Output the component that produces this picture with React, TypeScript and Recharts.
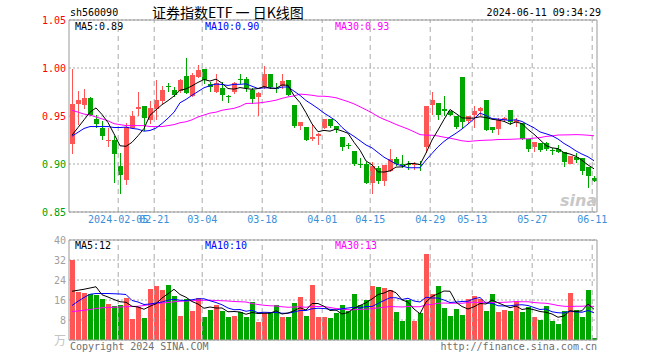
import { ComposedChart, Bar, Line, XAxis, YAxis, CartesianGrid, ReferenceLine } from 'recharts';

const FONT = '"DejaVu Sans Mono", monospace';
const RED = '#ff5555';
const GREEN = '#00a600';
const GRID = '#aaaaaa';
const BORDER = '#999999';

// 2024-01-24 .. 2024-06-11, one entry per trading day
const opens = [
  0.921, 0.963, 0.961, 0.969, 0.947, 0.937, 0.924, 0.925, 0.898, 0.883,
  0.937, 0.957, 0.960, 0.946, 0.957, 0.966, 0.981, 0.977, 0.976, 0.992,
  0.971, 0.991, 0.999, 0.983, 0.975, 0.979, 0.971, 0.975, 0.989, 0.989,
  0.977, 0.970, 0.980, 0.994, 0.979, 0.981, 0.987, 0.961, 0.940, 0.939,
  0.926, 0.929, 0.937, 0.947, 0.940, 0.928, 0.920, 0.914, 0.900, 0.900,
  0.880, 0.896, 0.882, 0.893, 0.905, 0.900, 0.900, 0.899, 0.900, 0.918,
  0.961, 0.964, 0.957, 0.955, 0.950, 0.991, 0.945, 0.951, 0.955, 0.967,
  0.939, 0.936, 0.946, 0.956, 0.944, 0.943, 0.926, 0.918, 0.922, 0.922,
  0.915, 0.916, 0.912, 0.900, 0.907, 0.906, 0.897, 0.885,
];
const highs = [
  0.999, 0.976, 0.978, 0.970, 0.951, 0.945, 0.938, 0.929, 0.911, 0.943,
  0.955, 0.975, 0.960, 0.966, 0.988, 0.981, 0.984, 0.980, 0.989, 1.010,
  0.995, 1.003, 0.999, 0.985, 0.994, 0.985, 0.972, 0.985, 0.994, 0.991,
  0.979, 0.975, 1.002, 0.994, 0.984, 0.994, 0.987, 0.961, 0.944, 0.939,
  0.942, 0.932, 0.947, 0.947, 0.940, 0.928, 0.922, 0.914, 0.906, 0.902,
  0.902, 0.898, 0.899, 0.916, 0.907, 0.909, 0.903, 0.902, 0.903, 0.960,
  0.975, 0.964, 0.971, 0.955, 0.950, 0.991, 0.950, 0.960, 0.959, 0.967,
  0.939, 0.948, 0.949, 0.956, 0.948, 0.943, 0.926, 0.923, 0.922, 0.923,
  0.917, 0.920, 0.912, 0.908, 0.911, 0.906, 0.897, 0.887,
];
const lows = [
  0.910, 0.941, 0.957, 0.950, 0.938, 0.925, 0.918, 0.880, 0.869, 0.878,
  0.936, 0.950, 0.934, 0.942, 0.946, 0.962, 0.975, 0.970, 0.974, 0.973,
  0.970, 0.990, 0.983, 0.975, 0.974, 0.966, 0.964, 0.973, 0.983, 0.975,
  0.963, 0.950, 0.978, 0.978, 0.974, 0.978, 0.971, 0.938, 0.935, 0.924,
  0.924, 0.920, 0.936, 0.937, 0.932, 0.914, 0.916, 0.898, 0.896, 0.879,
  0.869, 0.879, 0.877, 0.892, 0.898, 0.896, 0.894, 0.894, 0.893, 0.911,
  0.951, 0.946, 0.950, 0.950, 0.936, 0.936, 0.942, 0.937, 0.950, 0.934,
  0.932, 0.930, 0.944, 0.941, 0.939, 0.925, 0.913, 0.912, 0.912, 0.914,
  0.909, 0.911, 0.897, 0.900, 0.901, 0.889, 0.875, 0.881,
];
const closes = [
  0.963, 0.967, 0.969, 0.951, 0.942, 0.929, 0.925, 0.910, 0.889, 0.939,
  0.950, 0.959, 0.948, 0.958, 0.967, 0.977, 0.980, 0.972, 0.988, 0.974,
  0.993, 0.998, 0.987, 0.980, 0.984, 0.972, 0.970, 0.984, 0.988, 0.979,
  0.968, 0.974, 0.994, 0.980, 0.978, 0.986, 0.972, 0.940, 0.944, 0.925,
  0.928, 0.931, 0.947, 0.940, 0.936, 0.918, 0.919, 0.900, 0.899, 0.880,
  0.898, 0.882, 0.899, 0.905, 0.900, 0.899, 0.899, 0.900, 0.899, 0.960,
  0.967, 0.951, 0.955, 0.951, 0.939, 0.944, 0.950, 0.955, 0.958, 0.935,
  0.935, 0.946, 0.948, 0.944, 0.946, 0.926, 0.916, 0.923, 0.915, 0.916,
  0.914, 0.912, 0.902, 0.908, 0.904, 0.893, 0.888, 0.882,
];
const ma5 = [
  0.930, 0.938, 0.946, 0.954, 0.9584, 0.9516, 0.9432, 0.9314, 0.919, 0.9184,
  0.9226, 0.9294, 0.937, 0.9508, 0.9564, 0.9618, 0.966, 0.9708, 0.9768, 0.9782,
  0.9814, 0.985, 0.988, 0.9864, 0.9884, 0.9842, 0.9786, 0.978, 0.9796, 0.9786,
  0.9778, 0.9786, 0.9806, 0.979, 0.9788, 0.9824, 0.982, 0.9712, 0.964, 0.9534,
  0.9418, 0.9336, 0.935, 0.9342, 0.9364, 0.9344, 0.932, 0.9226, 0.9144, 0.9032,
  0.8992, 0.8918, 0.8916, 0.8928, 0.8968, 0.897, 0.9004, 0.9006, 0.8994, 0.9114,
  0.925, 0.9354, 0.9464, 0.9568, 0.9526, 0.948, 0.9478, 0.9478, 0.9492, 0.9484,
  0.9466, 0.9458, 0.9444, 0.9416, 0.9438, 0.942, 0.936, 0.931, 0.9252, 0.9192,
  0.9168, 0.916, 0.9118, 0.9104, 0.908, 0.9038, 0.899, 0.895,
];
const ma10 = [
  0.929, 0.933, 0.937, 0.939, 0.939, 0.939, 0.939, 0.938, 0.938, 0.9384,
  0.9371, 0.9363, 0.9342, 0.9349, 0.9374, 0.9422, 0.9477, 0.9539, 0.9638, 0.9673,
  0.9716, 0.9755, 0.9794, 0.9816, 0.9833, 0.9828, 0.9818, 0.983, 0.983, 0.9835,
  0.981, 0.9786, 0.9793, 0.9793, 0.9787, 0.9801, 0.9803, 0.9759, 0.9715, 0.9661,
  0.9621, 0.9578, 0.9531, 0.9491, 0.9449, 0.9381, 0.9328, 0.9288, 0.9243, 0.9198,
  0.9168, 0.9119, 0.9071, 0.9036, 0.900, 0.8981, 0.8961, 0.8961, 0.8961, 0.9041,
  0.911, 0.9179, 0.9235, 0.9281, 0.932, 0.9365, 0.9416, 0.9471, 0.953, 0.9505,
  0.9473, 0.9468, 0.9461, 0.9454, 0.9461, 0.9443, 0.9409, 0.9377, 0.9334, 0.9315,
  0.9294, 0.926, 0.9214, 0.9178, 0.9136, 0.9103, 0.9075, 0.9034,
];
const ma30 = [
  0.956, 0.954, 0.952, 0.951, 0.949, 0.947, 0.945, 0.942, 0.941, 0.940,
  0.940, 0.940, 0.940, 0.939, 0.939, 0.939, 0.940, 0.941, 0.943, 0.944,
  0.946, 0.949, 0.951, 0.953, 0.954, 0.956, 0.957, 0.958, 0.960, 0.9631,
  0.9632, 0.9635, 0.9643, 0.9653, 0.9665, 0.9684, 0.9699, 0.9709, 0.9728, 0.9723,
  0.9716, 0.9706, 0.9706, 0.970, 0.969, 0.967, 0.965, 0.9626, 0.9596, 0.9565,
  0.9533, 0.9494, 0.9465, 0.944, 0.9412, 0.9388, 0.9364, 0.9336, 0.9306, 0.930,
  0.930, 0.9292, 0.9279, 0.9269, 0.9256, 0.9242, 0.9235, 0.924, 0.9245, 0.9248,
  0.925, 0.9255, 0.9256, 0.9257, 0.926, 0.9263, 0.9262, 0.927, 0.9275, 0.9287,
  0.9292, 0.9302, 0.9303, 0.9304, 0.9306, 0.9304, 0.930, 0.9294,
];
// volume, in 万
const volumes = [
  32.1, 19.3, 18.8, 18.3, 17.9, 16.3, 14.6, 13.7, 14.0, 16.7,
  8.5, 13.3, 8.9, 20.3, 21.6, 19.9, 22.0, 17.5, 9.8, 16.3,
  11.4, 16.8, 9.4, 12.2, 14.2, 11.4, 9.4, 9.8, 11.3, 9.4,
  15.2, 7.1, 10.7, 11.1, 14.2, 9.1, 9.1, 14.8, 17.2, 9.8,
  22.0, 9.1, 9.4, 8.7, 10.7, 14.2, 11.8, 18.3, 14.2, 15.9,
  21.6, 21.2, 20.9, 19.9, 11.1, 7.5, 15.9, 7.5, 10.7, 34.6,
  18.3, 21.6, 13.0, 9.8, 12.6, 10.2, 16.3, 17.5, 16.3, 11.5,
  18.3, 11.1, 12.1, 11.5, 15.2, 11.1, 13.2, 9.4, 8.2, 13.7,
  7.5, 6.6, 11.8, 18.8, 12.1, 9.4, 20.0, 1.0,
];
const vma5 = [
  19.5, 19.9, 20.3, 20.8, 21.3, 18.1, 17.2, 16.2, 15.3, 15.1,
  13.5, 13.2, 12.3, 13.5, 14.5, 16.8, 18.5, 20.3, 18.2, 17.1,
  15.4, 14.4, 12.7, 13.2, 12.8, 12.8, 11.3, 11.4, 11.2, 10.3,
  11.0, 10.6, 10.7, 10.7, 11.7, 10.4, 10.8, 11.7, 12.9, 12.0,
  14.6, 14.6, 13.5, 11.8, 12.0, 10.4, 11.0, 12.7, 13.8, 14.9,
  16.4, 18.2, 18.8, 19.9, 18.9, 16.1, 15.1, 12.4, 10.5, 15.2,
  17.4, 18.5, 19.6, 19.5, 15.1, 13.4, 12.4, 13.3, 14.6, 14.4,
  16.0, 14.9, 13.9, 12.9, 13.6, 12.2, 12.6, 12.1, 11.4, 11.1,
  10.4, 9.1, 9.6, 11.7, 11.4, 11.7, 14.4, 12.3,
];
const vma10 = [
  13.8, 15.5, 17.0, 18.3, 18.6, 18.6, 18.6, 18.5, 18.4, 18.2,
  15.8, 15.2, 14.2, 14.4, 14.8, 15.2, 15.9, 16.3, 15.9, 15.8,
  16.1, 16.5, 16.5, 15.7, 15.0, 14.1, 12.8, 12.1, 12.2, 11.5,
  11.9, 10.9, 11.1, 11.0, 11.0, 10.7, 10.7, 11.2, 11.8, 11.8,
  12.5, 12.7, 12.6, 12.3, 12.0, 12.5, 12.8, 13.1, 12.8, 13.4,
  13.4, 14.6, 15.8, 16.9, 16.9, 16.2, 16.7, 15.6, 15.2, 17.1,
  16.8, 16.8, 16.0, 15.0, 15.2, 15.4, 15.5, 16.5, 17.0, 14.7,
  14.7, 13.7, 13.6, 13.7, 14.0, 14.1, 13.8, 13.0, 12.2, 12.4,
  11.3, 10.9, 10.8, 11.6, 11.2, 11.1, 11.8, 10.9,
];
const vma30 = [
  11.4, 11.6, 11.9, 12.2, 12.6, 12.9, 13.0, 13.1, 13.2, 13.3,
  13.4, 13.5, 13.8, 14.2, 14.6, 14.8, 15.0, 15.3, 15.5, 15.6,
  15.7, 15.8, 15.9, 15.9, 15.8, 15.7, 15.6, 15.4, 15.3, 15.2,
  14.6, 14.2, 13.9, 13.7, 13.6, 13.3, 13.1, 13.2, 13.3, 13.1,
  13.5, 13.4, 13.4, 13.0, 12.6, 12.4, 12.1, 12.1, 12.3, 12.3,
  12.6, 12.8, 13.1, 13.4, 13.3, 13.2, 13.4, 13.3, 13.3, 14.1,
  14.2, 14.7, 14.8, 14.7, 14.7, 14.7, 15.0, 15.1, 15.0, 15.1,
  15.0, 15.0, 15.1, 15.2, 15.4, 15.3, 15.3, 15.0, 14.8, 14.7,
  14.3, 13.8, 13.5, 13.4, 13.5, 13.5, 13.7, 13.4,
];

const dateIdx = [8, 14, 22, 32, 42, 50, 60, 67, 77, 87];
const dateLabels = ['2024-02-05', '02-21', '03-04', '03-18', '04-01', '04-15', '04-29', '05-13', '05-27', '06-11'];
const priceTicks = [0.85, 0.9, 0.95, 1.0, 1.05];
const volTicks = [0, 8, 16, 24, 32, 40];

// sina draws the date grid line just left of the candle
const gridX = dateIdx.map((k) => k - 0.3);

const rows = closes.map((close, i) => ({
  i,
  open: opens[i],
  high: highs[i],
  low: lows[i],
  close,
  range: [lows[i], highs[i]],
  vol: volumes[i],
  ma5: ma5[i],
  ma10: ma10[i],
  ma30: ma30[i],
  vma5: vma5[i],
  vma10: vma10[i],
  vma30: vma30[i],
}));

const Candle = (props: any) => {
  const { x, y, width, height, payload } = props;
  if (x == null || !payload) return null;
  const top = Math.min(y, y + height);
  const bot = Math.max(y, y + height);
  const { open, close, high, low } = payload;
  const span = high - low || 1;
  const py = (v: number) => top + ((high - v) / span) * (bot - top);
  const cx = Math.round(x + width / 2);
  const color = close > open ? RED : GREEN;
  const bTop = Math.round(py(Math.max(open, close)));
  const bBot = Math.round(py(Math.min(open, close)));
  return (
    <g>
      <line x1={cx + 0.5} x2={cx + 0.5} y1={Math.round(top)} y2={Math.round(bot)} stroke={color} strokeWidth={1} />
      <rect x={cx - 2} y={bTop} width={5} height={Math.max(1, bBot - bTop)} fill={color} />
    </g>
  );
};

const VolBar = (props: any) => {
  const { x, y, width, height, payload } = props;
  if (x == null || !payload) return null;
  const cx = Math.round(x + width / 2);
  const top = Math.round(Math.min(y, y + height));
  const bot = Math.round(Math.max(y, y + height));
  return <rect x={cx - 2} y={top} width={5} height={Math.max(1, bot - top)} fill={payload.close > payload.open ? RED : GREEN} />;
};

const PriceTick = ({ x, y, payload }: any) => (
  <text x={x} y={y} dy={3.5} textAnchor="end" fontSize={10} fontFamily={FONT} fill={payload.value >= 0.95 ? '#ff0000' : '#00a000'}>
    {payload.value.toFixed(2)}
  </text>
);

const VolTick = ({ x, y, payload }: any) =>
  payload.value === 0 ? (
    <text x={x} y={y} dy={5} textAnchor="end" fontSize={12} fontFamily='"Noto Sans CJK SC", sans-serif' fill="#c4c4c4">
      万
    </text>
  ) : (
    <text x={x} y={y} dy={3.5} textAnchor="end" fontSize={10} fontFamily={FONT} fill="#a0a0a0">
      {payload.value}
    </text>
  );

const Label = ({ left, top, color = '#000', children, right, size = 10, lh, family = FONT }: any) => (
  <div
    style={{
      position: 'absolute',
      left,
      right,
      top,
      color,
      fontSize: size,
      lineHeight: `${lh ?? size + 2}px`,
      fontFamily: family,
      whiteSpace: 'pre',
    }}
  >
    {children}
  </div>
);

const borders = (x0: number, x1: number, y0: number, y1: number) => [
  <ReferenceLine key="bt" y={y1} stroke={BORDER} strokeWidth={1} />,
  <ReferenceLine key="bb" y={y0} stroke={BORDER} strokeWidth={1} />,
  <ReferenceLine key="bl" x={x0} stroke={BORDER} strokeWidth={1} />,
  <ReferenceLine key="br" x={x1} stroke={BORDER} strokeWidth={1} />,
];

export default function App() {
  return (
    <div style={{ position: 'absolute', left: 0, top: 0, width: 660, height: 360, background: '#fff', overflow: 'hidden' }}>
      <div style={{ position: 'absolute', left: 0, top: 0 }}>
        <ComposedChart width={660} height={240} data={rows} margin={{ top: 20, right: 63, bottom: 8, left: 0 }}>
          <CartesianGrid vertical={false} stroke={GRID} strokeDasharray="2 2" />
          {gridX.map((t) => (
            <ReferenceLine key={t} x={t} stroke={GRID} strokeDasharray="5 4" />
          ))}
          <XAxis
            dataKey="i"
            type="number"
            domain={[-0.5, 87.5]}
            allowDataOverflow
            ticks={gridX}
            interval={0}
            tickFormatter={(v: number) => dateLabels[gridX.indexOf(v)] ?? ''}
            tick={{ fill: '#3a8fd8', fontSize: 10, fontFamily: FONT }}
            tickLine={false}
            tickSize={0}
            tickMargin={4}
            axisLine={false}
            height={20}
          />
          <YAxis
            type="number"
            domain={[0.85, 1.05]}
            allowDataOverflow
            ticks={priceTicks}
            interval={0}
            width={69}
            tick={<PriceTick />}
            tickLine={false}
            tickSize={0}
            tickMargin={3}
            axisLine={false}
          />
          <Bar dataKey="range" barSize={5} shape={<Candle />} isAnimationActive={false} />
          <Line type="linear" dataKey="ma30" stroke="#ff00ff" strokeWidth={1} dot={false} activeDot={false} isAnimationActive={false} />
          <Line type="linear" dataKey="ma10" stroke="#0000ff" strokeWidth={1} dot={false} activeDot={false} isAnimationActive={false} />
          <Line type="linear" dataKey="ma5" stroke="#000000" strokeWidth={1} dot={false} activeDot={false} isAnimationActive={false} />
          {borders(-0.5, 87.5, 0.85, 1.05)}
        </ComposedChart>
      </div>

      <div style={{ position: 'absolute', left: 0, top: 230 }}>
        <ComposedChart width={660} height={130} data={rows} margin={{ top: 10, right: 63, bottom: 20, left: 0 }}>
          <CartesianGrid vertical={false} stroke={GRID} strokeDasharray="2 2" />
          {gridX.map((t) => (
            <ReferenceLine key={t} x={t} stroke={GRID} strokeDasharray="5 4" />
          ))}
          <XAxis dataKey="i" type="number" domain={[-0.5, 87.5]} allowDataOverflow hide />
          <YAxis
            type="number"
            domain={[0, 40]}
            allowDataOverflow
            ticks={volTicks}
            interval={0}
            width={69}
            tick={<VolTick />}
            tickLine={false}
            tickSize={0}
            tickMargin={3}
            axisLine={false}
          />
          <Bar dataKey="vol" barSize={5} shape={<VolBar />} isAnimationActive={false} />
          <Line type="linear" dataKey="vma30" stroke="#ff00ff" strokeWidth={1} dot={false} activeDot={false} isAnimationActive={false} />
          <Line type="linear" dataKey="vma10" stroke="#0000ff" strokeWidth={1} dot={false} activeDot={false} isAnimationActive={false} />
          <Line type="linear" dataKey="vma5" stroke="#000000" strokeWidth={1} dot={false} activeDot={false} isAnimationActive={false} />
          {borders(-0.5, 87.5, 0, 40)}
        </ComposedChart>
      </div>

      <Label left={70} top={7}>sh560090</Label>
      <Label left={152} top={5} size={14} lh={14} family='"Noto Sans CJK SC", sans-serif'>证券指数ETF 一 日K线图</Label>
      <Label right={59} top={7}>2024-06-11 09:34:29</Label>

      <Label left={75} top={21}>MA5:0.89</Label>
      <Label left={205} top={21} color="#0000ff">MA10:0.90</Label>
      <Label left={335} top={21} color="#ff00ff">MA30:0.93</Label>

      <Label left={75} top={240}>MA5:12</Label>
      <Label left={205} top={240} color="#0000ff">MA10:10</Label>
      <Label left={335} top={240} color="#ff00ff">MA30:13</Label>

      <Label left={560} top={192} size={16} color="#c8c8c8" family='"DejaVu Sans", sans-serif'>
        <span style={{ fontStyle: 'italic', fontWeight: 'bold' }}>sina</span>
      </Label>

      <Label left={70} top={341} color="#707070">Copyright 2024 SINA.COM</Label>
      <Label right={63} top={341} color="#707070">http://finance.sina.com.cn</Label>
    </div>
  );
}
